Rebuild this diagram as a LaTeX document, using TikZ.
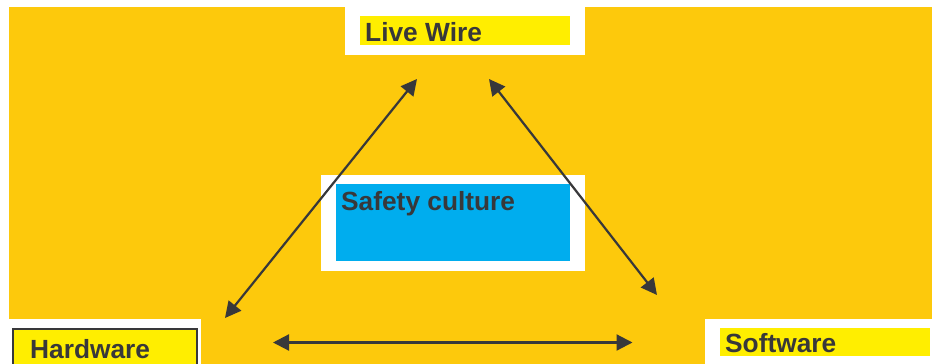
\documentclass[tikz,border=0pt]{standalone}
\usepackage{fontspec}
\setmainfont{Liberation Sans}
\usetikzlibrary{arrows.meta}
\definecolor{bgyellow}{HTML}{FDC90C}
\definecolor{hiyellow}{HTML}{FFEE00}
\definecolor{skyblue}{HTML}{00ADEE}
\definecolor{ink}{HTML}{38383A}
\begin{document}
\begin{tikzpicture}[x=1pt,y=-1pt,
  area/.style={anchor=north west,inner sep=0pt,outer sep=0pt,draw=none},
  panel/.style={area,fill=white},
  highlight/.style={area,fill=hiyellow},
  title/.style={font=\fontsize{26.3}{30}\selectfont\bfseries,text=ink,inner sep=0pt,anchor=base west},
  link/.style={draw=ink,line width=2.2pt,
    {Triangle[length=16pt,width=16pt]}-{Triangle[length=16pt,width=16pt]}}]
  \useasboundingbox (0,0) rectangle (932,364);
  \clip (0,0) rectangle (932,364);
  % backdrop
  \node[area,fill=bgyellow,minimum width=923,minimum height=357] (backdrop) at (9,7) {};
  % Live Wire
  \node[panel,minimum width=240,minimum height=55] (livepanel) at (345,0) {};
  \node[highlight,minimum width=210,minimum height=29] (livemark) at (360,16) {};
  \node[title] (live) at (365,41.5) {Live Wire};
  % Safety culture
  \node[panel,minimum width=264,minimum height=96] (safepanel) at (321,175) {};
  \node[area,fill=skyblue,minimum width=234,minimum height=77] (safemark) at (336,184) {};
  \node[title] (safe) at (341,210) {Safety culture};
  % Hardware
  \node[panel,minimum width=192,minimum height=60] (hardpanel) at (9,319) {};
  \node[area,fill=hiyellow,draw=ink,line width=2pt,minimum width=184,minimum height=60] (hardmark) at (13,329) {};
  \node[title] (hard) at (30,358) {Hardware};
  % Software
  \node[panel,minimum width=227,minimum height=60] (softpanel) at (705,319) {};
  \node[highlight,minimum width=210,minimum height=28] (softmark) at (720,328) {};
  \node[title] (soft) at (725,352) {Software};
  % arrow ends
  \coordinate (hwtip) at (225,318);
  \coordinate (lwleft) at (417,79);
  \coordinate (lwright) at (489,79);
  \coordinate (swtip) at (657,295);
  \coordinate (hwside) at (273,342.5);
  \coordinate (swside) at (632.5,342.5);
  \draw[link] (hwtip) -- (lwleft);
  \draw[link] (lwright) -- (swtip);
  \draw[link] (hwside) -- (swside);
\end{tikzpicture}
\end{document}
